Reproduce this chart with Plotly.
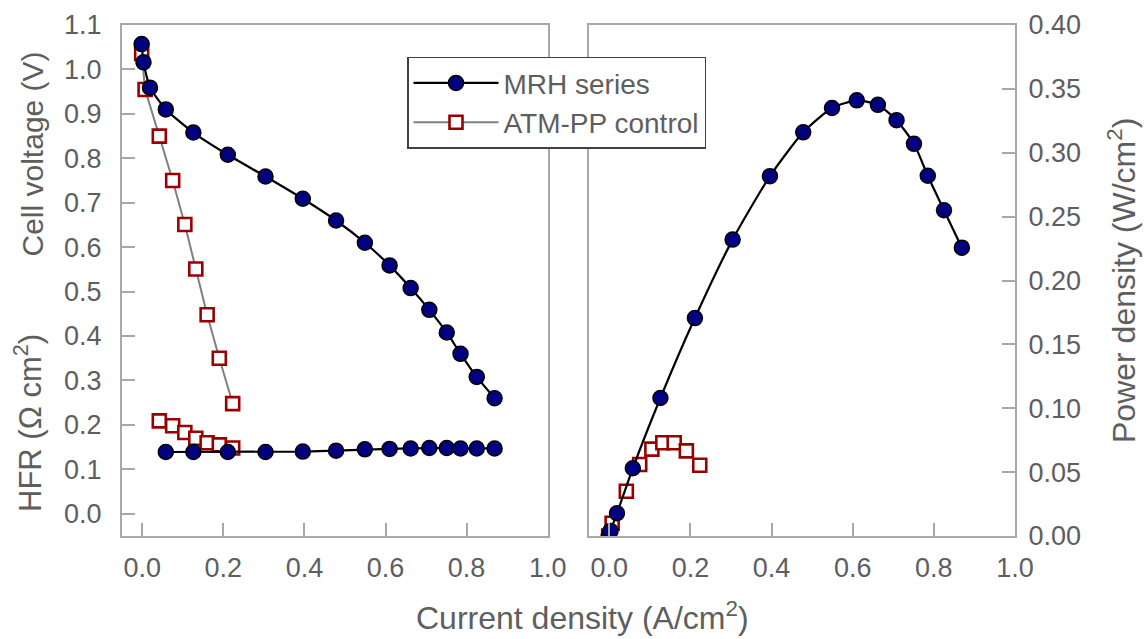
import plotly.graph_objects as go

# ---- data ----
mrh_current = [-0.0015, 0.003, 0.019, 0.058, 0.126, 0.211, 0.304, 0.396, 0.478,
               0.549, 0.610, 0.662, 0.708, 0.751, 0.785, 0.825, 0.869]
mrh_voltage = [1.057, 1.016, 0.959, 0.910, 0.858, 0.808, 0.759, 0.709, 0.660,
               0.610, 0.559, 0.508, 0.459, 0.408, 0.360, 0.308, 0.260]

mrh_hfr_current = [0.058, 0.126, 0.211, 0.304, 0.396, 0.478, 0.549, 0.610,
                   0.662, 0.708, 0.751, 0.785, 0.825, 0.869]
mrh_hfr = [0.139, 0.139, 0.139, 0.139, 0.140, 0.142, 0.145, 0.146,
           0.147, 0.148, 0.148, 0.147, 0.147, 0.147]

mrh_power = [0.000, 0.004, 0.0178, 0.053, 0.108, 0.1706, 0.232, 0.2817, 0.316,
             0.335, 0.341, 0.3375, 0.3255, 0.307, 0.282, 0.255, 0.2257]

atm_current = [-0.0015, 0.007, 0.042, 0.075, 0.105, 0.132, 0.160, 0.190, 0.223]
atm_voltage = [1.036, 0.955, 0.850, 0.750, 0.651, 0.551, 0.448, 0.350, 0.248]
atm_power = [0.000, 0.010, 0.035, 0.056, 0.068, 0.073, 0.073, 0.0666, 0.0554]

atm_hfr_current = [0.042, 0.075, 0.105, 0.132, 0.160, 0.190, 0.223]
atm_hfr = [0.209, 0.198, 0.183, 0.170, 0.160, 0.155, 0.148]

x_ticks = [0.0, 0.2, 0.4, 0.6, 0.8, 1.0]
left_y_ticks = [0.0, 0.1, 0.2, 0.3, 0.4, 0.5, 0.6, 0.7, 0.8, 0.9, 1.0, 1.1]
right_y_ticks = [0.0, 0.05, 0.10, 0.15, 0.20, 0.25, 0.30, 0.35, 0.40]

# ---- styles ----
FONT = "Liberation Sans, Arial, sans-serif"
TXT = "#5e5e5e"
AX = "#a8a8a8"
NAVY = "#000080"
RED = "#990000"

mrh_marker = dict(symbol="circle", size=15, color=NAVY, line=dict(color="black", width=1.5))
atm_marker = dict(symbol="square", size=13, color="white", line=dict(color=RED, width=2.6))

fig = go.Figure()

# ATM-PP (drawn first, below MRH)
fig.add_trace(go.Scatter(x=atm_current, y=atm_voltage, mode="lines+markers",
                         name="ATM-PP control", legendrank=2,
                         line=dict(color="#808080", width=2),
                         marker=atm_marker, xaxis="x", yaxis="y"))
fig.add_trace(go.Scatter(x=atm_hfr_current, y=atm_hfr, mode="markers",
                         showlegend=False, marker=atm_marker, xaxis="x", yaxis="y"))
fig.add_trace(go.Scatter(x=atm_current, y=atm_power, mode="markers",
                         showlegend=False, marker=atm_marker, xaxis="x2", yaxis="y2"))

# MRH series
fig.add_trace(go.Scatter(x=mrh_current, y=mrh_voltage, mode="lines+markers",
                         name="MRH series", legendrank=1,
                         line=dict(color="black", width=2.2, shape="spline", smoothing=0.5),
                         marker=mrh_marker, xaxis="x", yaxis="y"))
fig.add_trace(go.Scatter(x=mrh_hfr_current, y=mrh_hfr, mode="lines+markers",
                         showlegend=False, line=dict(color="black", width=2.2),
                         marker=mrh_marker, xaxis="x", yaxis="y"))
fig.add_trace(go.Scatter(x=mrh_current, y=mrh_power, mode="lines+markers",
                         showlegend=False,
                         line=dict(color="black", width=2.2, shape="spline", smoothing=0.6),
                         marker=mrh_marker, xaxis="x2", yaxis="y2"))

W, H = 1146, 639
ML, MR, MT, MB = 122, 131, 25, 103
PW = W - ML - MR
PH = H - MT - MB


def px(x):
    return (x - ML) / PW


def py(y):
    return (H - MB - y) / PH


common = dict(showline=True, linecolor=AX, linewidth=2, mirror=True,
              ticks="inside", ticklen=13, tickwidth=1.5, tickcolor=AX,
              showgrid=False, zeroline=False, automargin=False,
              tickfont=dict(family=FONT, size=27, color=TXT))

fig.update_layout(
    width=W, height=H,
    margin=dict(l=ML, r=MR, t=MT, b=MB, autoexpand=False),
    paper_bgcolor="white", plot_bgcolor="white",
    font=dict(family=FONT, size=27, color=TXT),
    xaxis=dict(domain=[0, px(547.7)], range=[-0.05, 1.0], tickvals=x_ticks, tickformat=".1f",
               anchor="y", ticklabelstandoff=7, **common),
    yaxis=dict(domain=[0, 1], range=[-0.05, 1.1], tickvals=left_y_ticks, tickformat=".1f",
               anchor="x", ticklabelstandoff=13, **common),
    xaxis2=dict(domain=[px(589), 1], range=[-0.05, 1.0], tickvals=x_ticks, tickformat=".1f",
                anchor="y2", ticklabelstandoff=7, **common),
    yaxis2=dict(domain=[0, 1], range=[0, 0.40], tickvals=right_y_ticks, tickformat=".2f",
                anchor="x2", side="right", ticklabelstandoff=6, **common),
    showlegend=True,
    legend=dict(x=px(407), y=py(56.7), xanchor="left", yanchor="top",
                bgcolor="white", bordercolor="#404040", borderwidth=1.5,
                font=dict(family=FONT, size=28, color=TXT), itemwidth=85,
                traceorder="normal"),
    annotations=[
        dict(text="Cell voltage (V)", xref="paper", yref="paper",
             x=px(50), y=py(154), xanchor="right", yanchor="middle",
             textangle=-90, showarrow=False, font=dict(family=FONT, size=30, color=TXT)),
        dict(text="HFR (Ω cm<sup>2</sup>)", xref="paper", yref="paper",
             x=px(50), y=py(423), xanchor="right", yanchor="middle",
             textangle=-90, showarrow=False, font=dict(family=FONT, size=31, color=TXT)),
        dict(text="Power density (W/cm<sup>2</sup>)", xref="paper", yref="paper",
             x=px(1144), y=py(281), xanchor="right", yanchor="middle",
             textangle=-90, showarrow=False, font=dict(family=FONT, size=32, color=TXT)),
        dict(text="Current density (A/cm<sup>2</sup>)", xref="paper", yref="paper",
             x=px(582), y=py(638), xanchor="center", yanchor="bottom",
             showarrow=False, font=dict(family=FONT, size=32, color=TXT)),
    ],
)

fig.write_html("out.html",
               config={"displayModeBar": False},
               post_script="document.body.style.margin='0';"
                           "document.body.style.overflow='hidden';")
